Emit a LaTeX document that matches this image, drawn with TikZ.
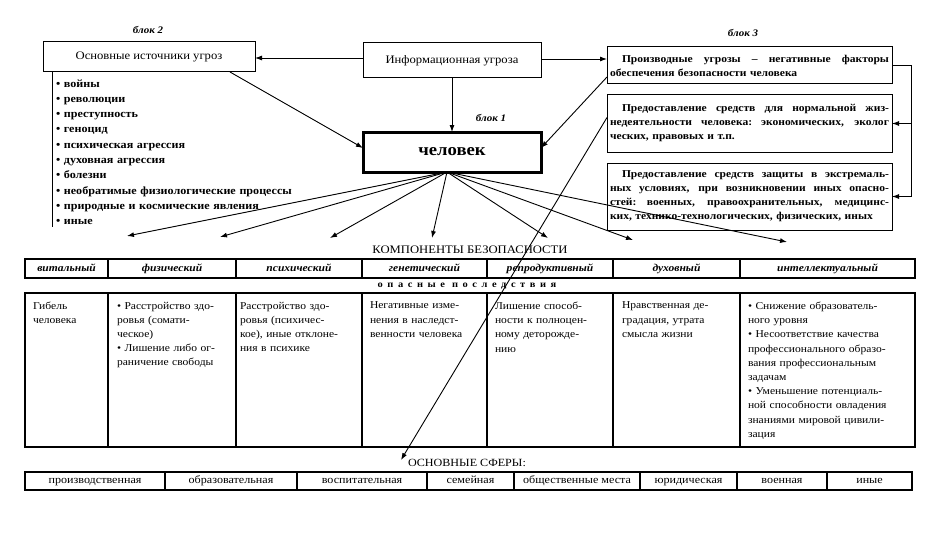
\documentclass[tikz,border=0pt]{standalone}
\usepackage{fontspec}
\setmainfont{Liberation Serif}[FakeStretch=1.1]
\usetikzlibrary{arrows.meta}
\newcommand{\JL}[1]{\leavevmode\hbox to 279pt{\spaceskip=0.3333em plus 3em\xspaceskip=\spaceskip #1}}
\begin{document}
\begin{tikzpicture}[x=1pt,y=-1pt,
  every node/.style={inner sep=0pt, outer sep=0pt},
  box/.style={draw, line width=1pt},
  arr/.style={line width=0.9pt, -{Latex[length=7pt,width=5pt]}},
  ln/.style={line width=0.9pt},
  tab/.style={draw, line width=1.1pt},
  lab/.style={font=\fontsize{10}{11}\selectfont\itshape\bfseries},
  ttl/.style={font=\fontsize{11.5}{13}\selectfont},
  b3/.style={box, text width=279pt, align=left, font=\fontsize{10.5}{14}\selectfont\bfseries},
  lst/.style={anchor=north west, align=left, text width=280pt, font=\fontsize{11}{15.3}\selectfont\bfseries},
  hl/.style={tab, minimum height=19pt, text height=7.5pt, text depth=2.5pt, font=\fontsize{10.5}{11}\selectfont\bfseries\itshape},
  cell/.style={tab, minimum height=154pt},
  ct/.style={anchor=north west, align=left, font=\fontsize{10.5}{14.2}\selectfont},
  sp/.style={tab, minimum height=18pt, text height=7.5pt, text depth=2.5pt, font=\fontsize{11}{12}\selectfont}
]
\fill[white] (0,0) rectangle (935,535);
\useasboundingbox (0,0) rectangle (935,535);

% labels
\node[lab] (b2) at (148,30) {блок 2};
\node[lab] (b3l) at (743,33) {блок 3};
\node[lab] (b1) at (491,118) {блок 1};

% top boxes
\node[box, ttl, minimum width=212pt, minimum height=30pt] (src) at (149,57) {Основные источники угроз};
\node[box, ttl, minimum width=178pt, minimum height=35pt] (info) at (452,60.5) {Информационная угроза};
\node[draw, line width=3pt, minimum width=178pt, minimum height=40pt,
      font=\fontsize{17}{19}\selectfont\bfseries] (chel) at (452,152) {человек};

% block 3
\node[b3, minimum width=285pt, minimum height=37pt] (d1) at (749.5,65.5)
  {\JL{\hspace*{12pt}Производные угрозы -- негативные факторы}\\обеспечения безопасности человека};
\node[b3, minimum width=285pt, minimum height=57pt] (d2) at (749.5,123.5)
  {\JL{\hspace*{12pt}Предоставление средств для нормальной жиз-}\\\JL{недеятельности человека: экономических, эколог}\\ческих, правовых и т.п.};
\node[b3, minimum width=285pt, minimum height=67pt] (d3) at (749.5,196.5)
  {\JL{\hspace*{12pt}Предоставление средств защиты в экстремаль-}\\\JL{ных условиях, при возникновении иных опасно-}\\\JL{стей: военных, правоохранительных, медицинс-}\\ких, технико-технологических, физических, иных};

% list of sources
\node[lst] (list) at (56,79.5) {• войны\\• революции\\• преступность\\• геноцид\\• психическая агрессия\\• духовная агрессия\\• болезни\\• необратимые физиологические процессы\\• природные и космические явления\\• иные};
\draw[ln] ([xshift=9pt]src.south west) -- ++(0,155);

% connectors top
\draw[arr] ([yshift=2.5pt]info.west) -- ([yshift=2.5pt]info.west -| src.east);
\draw[arr] ([yshift=1.5pt]info.east) -- ([yshift=1.5pt]info.east -| d1.west);
\draw[arr] (info.south) -- (chel.north);
\draw[arr] ([xshift=-25pt]src.south east) -- ([yshift=4pt]chel.west);
\draw[arr] ([yshift=7pt]d1.south west) -- ([yshift=4pt]chel.east);
\coordinate (r1) at ([xshift=19pt]d1.east);
\draw[arr] (d1.east) -- (r1) |- (d3.east);
\draw[arr] (r1 |- d2.east) -- (d2.east);

% components
\node[font=\fontsize{11.5}{12}\selectfont] (komp) at (470,250) {КОМПОНЕНТЫ БЕЗОПАСНОСТИ};

\node[hl, minimum width=83pt] (h1) at (66.5,268.5) {витальный};
\node[hl, minimum width=128pt] (h2) at (172,268.5) {физический};
\node[hl, minimum width=126pt] (h3) at (299,268.5) {психический};
\node[hl, minimum width=125pt] (h4) at (424.5,268.5) {генетический};
\node[hl, minimum width=126pt] (h5) at (550,268.5) {репродуктивный};
\node[hl, minimum width=127pt] (h6) at (676.5,268.5) {духовный};
\node[hl, minimum width=175pt] (h7) at (827.5,268.5) {интеллектуальный};

\node[font=\fontsize{9.5}{11}\selectfont\bfseries\addfontfeature{LetterSpace=48}] (op) at (467,286) {опасные последствия};

\node[cell, minimum width=83pt] (c1) at (66.5,370) {};
\node[cell, minimum width=128pt] (c2) at (172,370) {};
\node[cell, minimum width=126pt] (c3) at (299,370) {};
\node[cell, minimum width=125pt] (c4) at (424.5,370) {};
\node[cell, minimum width=126pt] (c5) at (550,370) {};
\node[cell, minimum width=127pt] (c6) at (676.5,370) {};
\node[cell, minimum width=175pt] (c7) at (827.5,370) {};

\node[ct, text width=72pt] (tx1) at ([xshift=8pt,yshift=-9pt]c1.north west) {Гибель\\человека};
\node[ct, text width=118pt] (tx2) at ([xshift=9pt,yshift=-9pt]c2.north west) {• Расстройство здо-\\ровья (сомати-\\ческое)\\• Лишение либо ог-\\раничение свободы};
\node[ct, text width=120pt] (tx3) at ([xshift=4pt,yshift=-9pt]c3.north west) {Расстройство здо-\\ровья (психичес-\\кое), иные отклоне-\\ния в психике};
\node[ct, text width=116pt] (tx4) at ([xshift=8pt,yshift=-9pt]c4.north west) {Негативные изме-\\нения в наследст-\\венности человека};
\node[ct, text width=117pt] (tx5) at ([xshift=8pt,yshift=-9pt]c5.north west) {Лишение способ-\\ности к полноцен-\\ному деторожде-\\нию};
\node[ct, text width=117pt] (tx6) at ([xshift=9pt,yshift=-9pt]c6.north west) {Нравственная де-\\градация, утрата\\смысла жизни};
\node[ct, text width=166pt] (tx7) at ([xshift=8pt,yshift=-9pt]c7.north west) {• Снижение образователь-\\ного уровня\\• Несоответствие качества\\профессионального образо-\\вания профессиональным\\задачам\\• Уменьшение потенциаль-\\ной способности овладения\\знаниями мировой цивили-\\зация};

% arrows from человек
\coordinate (o) at ([xshift=-5pt]chel.south);
\coordinate (t1) at (127,236);
\coordinate (t2) at (220,237);
\coordinate (t3) at (330,238);
\coordinate (t4) at (432,238);
\coordinate (t5) at (548,238);
\coordinate (t6) at (633,240);
\coordinate (t7) at (787,242);
\foreach \t in {t1,t2,t3,t4,t5,t6,t7} \draw[arr] (o) -- (\t);

% spheres
\node[anchor=west, font=\fontsize{11}{12}\selectfont] (sf) at (408,463) {ОСНОВНЫЕ СФЕРЫ:};
\node[sp, minimum width=140pt] (s1) at (95,481) {производственная};
\node[sp, minimum width=132pt] (s2) at (231,481) {образовательная};
\node[sp, minimum width=130pt] (s3) at (362,481) {воспитательная};
\node[sp, minimum width=87pt] (s4) at (470.5,481) {семейная};
\node[sp, minimum width=126pt] (s5) at (577,481) {общественные места};
\node[sp, minimum width=97pt] (s6) at (688.5,481) {юридическая};
\node[sp, minimum width=90pt] (s7) at (782,481) {военная};
\node[sp, minimum width=85pt] (s8) at (869.5,481) {иные};

\draw[arr] ([yshift=6pt]d2.west) -- ([xshift=-7pt,yshift=3pt]sf.west);
\end{tikzpicture}
\end{document}
